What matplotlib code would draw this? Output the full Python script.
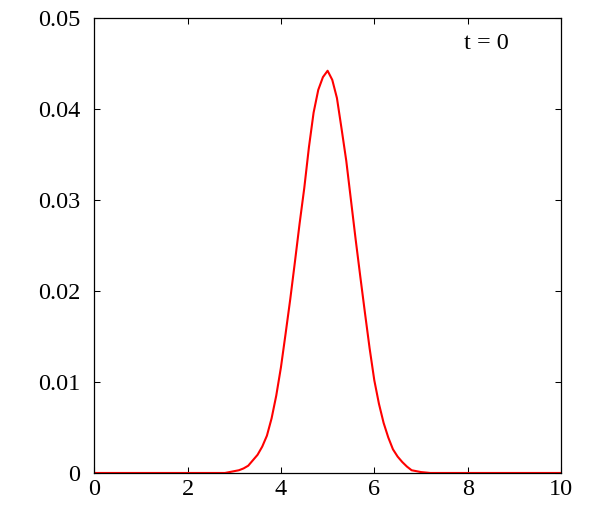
import matplotlib
matplotlib.use('Agg')
import matplotlib.pyplot as plt
from matplotlib.ticker import FuncFormatter

# valores (curva em t = 0)
x_vals = [0.0, 2.7, 2.8, 2.9, 3.0, 3.1, 3.2, 3.3, 3.4, 3.5, 3.6, 3.7, 3.8, 3.9,
          4.0, 4.1, 4.2, 4.3, 4.4, 4.5, 4.6, 4.7, 4.8, 4.9, 5.0, 5.1, 5.2, 5.3,
          5.4, 5.5, 5.6, 5.7, 5.8, 5.9, 6.0, 6.1, 6.2, 6.3, 6.4, 6.5, 6.6, 6.7,
          6.8, 6.9, 7.0, 7.1, 7.2, 7.3, 10.0]
y_vals = [0.0, 0.0, 0.0, 0.0001, 0.0002, 0.0003, 0.0005, 0.0008, 0.0014, 0.0020,
          0.0029, 0.0041, 0.0060, 0.0085, 0.0116, 0.0153, 0.0191, 0.0232, 0.0274,
          0.0313, 0.0358, 0.0396, 0.0421, 0.0435, 0.0442, 0.0432, 0.0412, 0.0378,
          0.0343, 0.0300, 0.0257, 0.0216, 0.0176, 0.0137, 0.0102, 0.0076, 0.0055,
          0.0039, 0.0026, 0.0018, 0.0012, 0.0007, 0.0003, 0.0002, 0.0001, 0.00005,
          0.0, 0.0, 0.0]
x_ticks = [0, 2, 4, 6, 8, 10]
y_ticks = [0, 0.01, 0.02, 0.03, 0.04, 0.05]
rotulo = 't = 0'

plt.rcParams['font.family'] = ['Liberation Serif', 'DejaVu Serif']

fig = plt.figure(figsize=(6, 5.15), dpi=100)
graph = fig.add_axes([0.157, 0.0816, 0.778, 0.8835])

graph.plot(x_vals, y_vals, color='red', linewidth=1.5)

graph.set_xlim(0, 10)
graph.set_ylim(0, 0.05)
graph.set_xticks(x_ticks)
graph.set_yticks(y_ticks)
fmt = FuncFormatter(lambda v, p: '%g' % round(v, 6))
graph.xaxis.set_major_formatter(fmt)
graph.yaxis.set_major_formatter(fmt)
graph.tick_params(axis='both', which='major', direction='in', length=4.3, width=0.75,
                  top=True, right=True, labelsize=17.5, colors='black')
graph.tick_params(axis='x', pad=4.5)
graph.tick_params(axis='y', pad=10)
for s in graph.spines.values():
    s.set_linewidth(0.9)
    s.set_color('black')

graph.text(8.87, 0.0466, rotulo, ha='right', va='baseline', fontsize=17.5)

fig.savefig('out.png', dpi=100)
